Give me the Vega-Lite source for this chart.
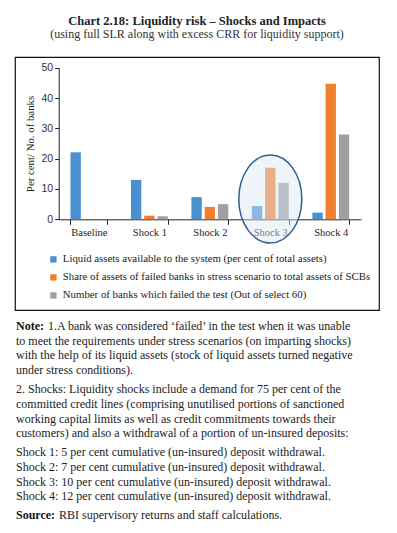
{
  "$schema": "https://vega.github.io/schema/vega-lite/v6.json",
  "padding": {"left": 14, "top": 14, "right": 5, "bottom": 0},
  "autosize": {"type": "pad"},
  "background": "white",
  "title": {
    "text": "Chart 2.18: Liquidity risk – Shocks and Impacts",
    "subtitle": "(using full SLR along with excess CRR for liquidity support)",
    "anchor": "middle",
    "font": "Liberation Serif",
    "fontSize": 12.5,
    "fontWeight": "bold",
    "color": "#222",
    "subtitleFont": "Liberation Serif",
    "subtitleFontSize": 12,
    "subtitleColor": "#333",
    "subtitlePadding": 2,
    "offset": 16
  },
  "config": {
    "view": {"stroke": "#111", "strokeWidth": 1.2},
    "font": "Liberation Serif"
  },
  "spacing": 9,
  "vconcat": [
    {
      "width": 364,
      "height": 253,
      "layer": [
        {
          "data": {
            "values": [
              {"scenario": "Baseline", "series": "Liquid assets available to the system (per cent of total assets)", "value": 22.1},
              {"scenario": "Baseline", "series": "Share of assets of failed banks in stress scenario to total assets of SCBs", "value": 0},
              {"scenario": "Baseline", "series": "Number of banks which failed the test (Out of select 60)", "value": 0},
              {"scenario": "Shock 1", "series": "Liquid assets available to the system (per cent of total assets)", "value": 13.0},
              {"scenario": "Shock 1", "series": "Share of assets of failed banks in stress scenario to total assets of SCBs", "value": 1.2},
              {"scenario": "Shock 1", "series": "Number of banks which failed the test (Out of select 60)", "value": 1},
              {"scenario": "Shock 2", "series": "Liquid assets available to the system (per cent of total assets)", "value": 7.3},
              {"scenario": "Shock 2", "series": "Share of assets of failed banks in stress scenario to total assets of SCBs", "value": 4.1},
              {"scenario": "Shock 2", "series": "Number of banks which failed the test (Out of select 60)", "value": 5},
              {"scenario": "Shock 3", "series": "Liquid assets available to the system (per cent of total assets)", "value": 4.4},
              {"scenario": "Shock 3", "series": "Share of assets of failed banks in stress scenario to total assets of SCBs", "value": 17.0},
              {"scenario": "Shock 3", "series": "Number of banks which failed the test (Out of select 60)", "value": 12},
              {"scenario": "Shock 4", "series": "Liquid assets available to the system (per cent of total assets)", "value": 2.2},
              {"scenario": "Shock 4", "series": "Share of assets of failed banks in stress scenario to total assets of SCBs", "value": 44.7},
              {"scenario": "Shock 4", "series": "Number of banks which failed the test (Out of select 60)", "value": 28}
            ]
          },
          "mark": {"type": "bar"},
          "encoding": {
            "x": {
              "field": "scenario",
              "type": "nominal",
              "sort": ["Baseline", "Shock 1", "Shock 2", "Shock 3", "Shock 4"],
              "scale": {"range": [43.7, 346], "paddingInner": 0.39, "paddingOuter": 0.195},
              "axis": {
                "title": null,
                "orient": "bottom",
                "offset": -90.7,
                "tickBand": "extent",
                "tickSize": 5,
                "labelPadding": 3,
                "labelAngle": 0,
                "labelFont": "Liberation Serif",
                "labelFontSize": 10.5,
                "labelColor": "#222",
                "domainColor": "#222",
                "tickColor": "#222"
              }
            },
            "xOffset": {
              "field": "series",
              "type": "nominal",
              "sort": [
                "Liquid assets available to the system (per cent of total assets)",
                "Share of assets of failed banks in stress scenario to total assets of SCBs",
                "Number of banks which failed the test (Out of select 60)"
              ],
              "scale": {"paddingInner": 0.22}
            },
            "y": {
              "field": "value",
              "type": "quantitative",
              "scale": {"domain": [0, 50], "range": [162.3, 10.7], "nice": false},
              "axis": {
                "title": "Per cent/ No. of banks",
                "offset": -43.7,
                "values": [0, 10, 20, 30, 40, 50],
                "grid": false,
                "tickSize": 4,
                "labelPadding": 2,
                "labelFont": "Liberation Sans",
                "labelFontSize": 10.5,
                "labelColor": "#333",
                "domainColor": "#222",
                "tickColor": "#222",
                "titleFont": "Liberation Serif",
                "titleFontSize": 10.8,
                "titleFontWeight": "normal",
                "titleColor": "#222",
                "titlePadding": 6
              }
            },
            "color": {
              "field": "series",
              "type": "nominal",
              "sort": [
                "Liquid assets available to the system (per cent of total assets)",
                "Share of assets of failed banks in stress scenario to total assets of SCBs",
                "Number of banks which failed the test (Out of select 60)"
              ],
              "scale": {
                "domain": [
                  "Liquid assets available to the system (per cent of total assets)",
                  "Share of assets of failed banks in stress scenario to total assets of SCBs",
                  "Number of banks which failed the test (Out of select 60)"
                ],
                "range": ["#4a90d0", "#f0802e", "#a0a0a4"]
              },
              "legend": {
                "title": null,
                "orient": "none",
                "legendX": 33,
                "legendY": 197,
                "symbolType": "square",
                "symbolSize": 40,
                "symbolStrokeWidth": 0,
                "labelFont": "Liberation Serif",
                "labelFontSize": 10.8,
                "labelColor": "#222",
                "labelLimit": 400,
                "labelOffset": 4,
                "rowPadding": 6
              }
            }
          }
        },
        {
          "data": {"values": [{}]},
          "mark": {
            "type": "point",
            "shape": "M0.716,0C0.716,0.5523,0.3955,1,0,1C-0.3955,1,-0.716,0.5523,-0.716,0C-0.716,-0.5523,-0.3955,-1,0,-1C0.3955,-1,0.716,-0.5523,0.716,0Z",
            "size": 7744,
            "filled": true,
            "fill": "#dbe7f3",
            "fillOpacity": 0.45,
            "stroke": "#2f5f8f",
            "strokeWidth": 1.5,
            "strokeOpacity": 1,
            "opacity": 1
          },
          "encoding": {
            "x": {"datum": "Shock 3"},
            "y": {"datum": 6.7}
          }
        }
      ]
    },
    {
      "width": 364,
      "height": 189.3,
      "view": {"stroke": null},
      "data": {
        "values": [
          {"para": 1, "line": 1, "lead": "Note:", "text": "1.A bank was considered ‘failed’ in the test when it was unable"},
          {"para": 1, "line": 2, "text": "to meet the requirements under stress scenarios (on imparting shocks)"},
          {"para": 1, "line": 3, "text": "with the help of its liquid assets (stock of liquid assets turned negative"},
          {"para": 1, "line": 4, "text": "under stress conditions)."},
          {"para": 2, "line": 1, "text": "2. Shocks: Liquidity shocks include a demand for 75 per cent of the"},
          {"para": 2, "line": 2, "text": "committed credit lines (comprising unutilised portions of sanctioned"},
          {"para": 2, "line": 3, "text": "working capital limits as well as credit commitments towards their"},
          {"para": 2, "line": 4, "text": "customers) and also a withdrawal of a portion of un-insured deposits:"},
          {"para": 3, "line": 1, "text": "Shock 1: 5 per cent cumulative (un-insured) deposit withdrawal."},
          {"para": 3, "line": 2, "text": "Shock 2: 7 per cent cumulative (un-insured) deposit withdrawal."},
          {"para": 3, "line": 3, "text": "Shock 3: 10 per cent cumulative (un-insured) deposit withdrawal."},
          {"para": 3, "line": 4, "text": "Shock 4: 12 per cent cumulative (un-insured) deposit withdrawal."},
          {"para": 4, "line": 1, "lead": "Source:", "text": "RBI supervisory returns and staff calculations."}
        ]
      },
      "encoding": {
        "y": {"field": "para", "type": "ordinal", "scale": {"type": "point", "padding": 0}, "axis": null},
        "yOffset": {"field": "line", "type": "ordinal", "scale": {"type": "point", "range": [0, 44.1], "padding": 0}},
        "x": {"value": 1}
      },
      "layer": [
        {
          "transform": [{"filter": "!datum.lead"}],
          "mark": {"type": "text", "align": "left", "baseline": "middle", "font": "Liberation Serif", "fontSize": 12, "color": "#222"},
          "encoding": {"text": {"field": "text"}}
        },
        {
          "transform": [{"filter": "datum.lead"}],
          "mark": {"type": "text", "align": "left", "baseline": "middle", "font": "Liberation Serif", "fontSize": 12, "fontWeight": "bold", "color": "#111"},
          "encoding": {"text": {"field": "lead"}}
        },
        {
          "transform": [{"filter": "datum.lead == 'Note:'"}],
          "mark": {"type": "text", "align": "left", "baseline": "middle", "font": "Liberation Serif", "fontSize": 12, "color": "#222", "dx": 32},
          "encoding": {"text": {"field": "text"}}
        },
        {
          "transform": [{"filter": "datum.lead == 'Source:'"}],
          "mark": {"type": "text", "align": "left", "baseline": "middle", "font": "Liberation Serif", "fontSize": 12, "color": "#222", "dx": 43}
,
          "encoding": {"text": {"field": "text"}}
        }
      ]
    }
  ]
}
